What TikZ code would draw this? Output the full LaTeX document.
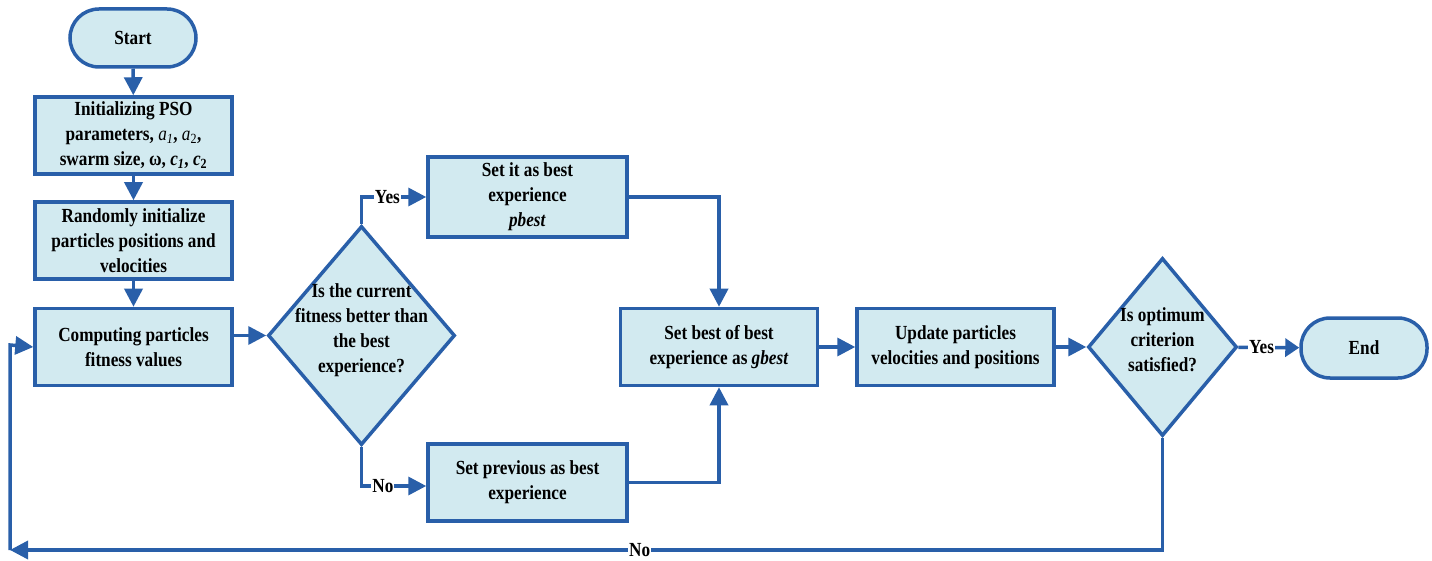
\documentclass[tikz,border=0pt]{standalone}
\usepackage{fontspec}
\setmainfont{Liberation Serif}[FakeStretch=0.86]
\usepackage{tikz}
\usetikzlibrary{shapes.geometric,arrows.meta}

\definecolor{flowblue}{RGB}{41,95,169}
\definecolor{flowfill}{RGB}{210,234,240}

\newcommand{\dtext}[1]{\smash{\makebox[0pt]{\begin{tabular}{@{}c@{}}#1\end{tabular}}}}

\tikzset{
  base/.style={draw=flowblue, fill=flowfill, line width=3.5pt, font=\fontsize{20}{25}\selectfont\bfseries, align=center},
  process/.style={base, rectangle, minimum width=197pt, minimum height=77pt, inner sep=1pt},
  terminal/.style={base, rectangle, rounded corners=29pt, minimum width=126pt, minimum height=58pt},
  decision/.style={base, diamond, inner sep=0pt},
  flow/.style={draw=flowblue, line width=3.5pt, -{Triangle[length=18pt,width=18pt]}},
  lbl/.style={fill=white, inner sep=1pt, font=\fontsize{20}{22}\selectfont\bfseries}
}

\begin{document}
\begin{tikzpicture}[x=1pt,y=-1pt]
  \useasboundingbox (0,0) rectangle (1432,561);
  % left column
  \node[terminal] (start) at (133,38) {Start};
  \node[process] (init) at (133.5,135.5) {Initializing PSO\\parameters, {\mdseries\itshape a}\textsubscript{\mdseries\itshape 1}, {\mdseries\itshape a}\textsubscript{\mdseries 2},\\swarm size, ω, \textit{c}\textsubscript{\itshape 1}, \textit{c}\textsubscript{2}};
  \node[process] (rand) at (133.5,240.5) {Randomly initialize\\particles positions and\\velocities};
  \node[process] (comp) at (133.5,347) {Computing particles\\fitness values};
  % first decision
  \node[decision, minimum width=187pt, minimum height=219pt] (better) at (361.5,335.5) {\dtext{Is the current\\fitness better than\\the best\\experience?}};
  \node[process, minimum width=199pt, minimum height=80pt] (pbest) at (527.5,197) {Set it as best\\experience\\\textit{pbest}};
  \node[process, minimum width=199pt] (prev) at (527.5,482.5) {Set previous as best\\experience};
  % right part
  \node[process] (gbest) at (719,347) {Set best of best\\experience as \textit{gbest}};
  \node[process] (update) at (955.5,347) {Update particles\\velocities and positions};
  \node[decision, minimum width=149pt, minimum height=178pt] (optim) at (1162.5,347) {\dtext{Is optimum\\criterion\\satisfied?}};
  \node[terminal, minimum height=60pt] (finish) at (1364,348) {End};
  \coordinate (loopR) at (1162.5,550);
  \coordinate (loopL) at (10,550);
  \coordinate (loopT) at (10,345);

  % connectors
  \draw[flow] (start) -- (init);
  \draw[flow] (init) -- (rand);
  \draw[flow] (rand) -- (comp);
  \draw[flow] (comp.east |- better.west) -- (better.west);
  \draw[flow] (better.north) -- (361.5,197) -- node[lbl, pos=0.4] {Yes} (pbest.west);
  \draw[flow] (better.south) -- (361.5,486) -- node[lbl, pos=0.33] {No} (prev.west |- 0,486);
  \draw[flow] (pbest.east) -| (gbest.north);
  \draw[flow] (prev.east) -| (gbest.south);
  \draw[flow] (gbest) -- (update);
  \draw[flow] (update) -- (optim);
  \draw[flow, -{Triangle[length=14pt,width=18pt]}] (optim) -- node[lbl, pos=0.38] {Yes} (finish);
  \draw[flow] (optim.south) -- (loopR) -- node[lbl, pos=0.4536] {No} (loopL);
  \draw[flow] (loopL) -- (loopT) -- (comp.west);
\end{tikzpicture}
\end{document}
